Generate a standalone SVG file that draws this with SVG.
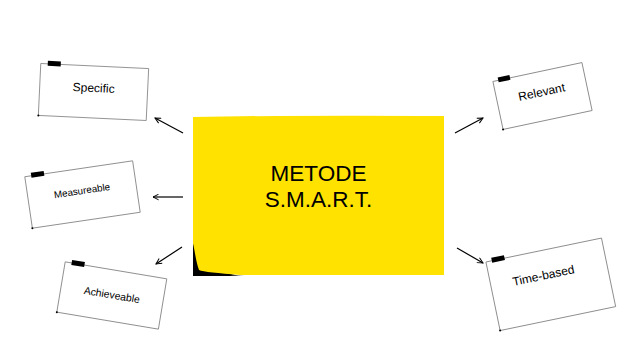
<svg xmlns="http://www.w3.org/2000/svg" width="623" height="350" viewBox="0 0 623 350">
<defs>
<style>
.note{fill:#fff;stroke:#8a8a8a;stroke-width:0.9}
.tape{fill:#000}
.lbl{font-family:"Liberation Sans",Arial,sans-serif;fill:#000;text-anchor:middle}
.conn{stroke:#000;stroke-width:1.2;fill:none;marker-end:url(#arr)}
</style>
<marker id="arr" viewBox="0 0 10 10" refX="9" refY="5" markerWidth="7" markerHeight="7" markerUnits="userSpaceOnUse" orient="auto">
<path d="M1,1 L9,5 L1,9" fill="none" stroke="#000" stroke-width="1.4"/>
</marker>
<linearGradient id="sh" x1="0" y1="0" x2="1" y2="0">
<stop offset="0" stop-color="#000"/>
<stop offset="0.7" stop-color="#000"/>
<stop offset="1" stop-color="#000" stop-opacity="0.2"/>
</linearGradient>
</defs>
<rect width="623" height="350" fill="#fff"/>
<g id="connectors">
<line class="conn" x1="183" y1="133" x2="155" y2="118"/>
<line class="conn" x1="183" y1="197" x2="153" y2="197"/>
<line class="conn" x1="182" y1="247" x2="156" y2="264"/>
<line class="conn" x1="455" y1="133" x2="483" y2="118"/>
<line class="conn" x1="457" y1="248" x2="483" y2="263"/>
</g>
<g id="center">
<path d="M193,243 L193,276 L245,276 Q205,273 193,243 Z" fill="url(#sh)"/>
<path d="M193,117 Q300,115 444,116 L444,275 L240,275 C218,273 203,272 199,270 C196,262 195,252 193,243 Z" fill="#FFE200"/>
<text class="lbl" x="318.5" y="181" font-size="22.5">METODE</text>
<text class="lbl" x="318.5" y="207" font-size="22.5">S.M.A.R.T.</text>
</g>
<g id="specific" transform="translate(93.5,92) rotate(2.7)">
<rect class="note" x="-54" y="-26" width="108" height="52"/>
<rect class="tape" x="-47" y="-29" width="13" height="5"/>
<circle cx="-54" cy="26" r="1" fill="#000"/>
<text class="lbl" x="0" y="0" font-size="12">Specific</text>
</g>
<g id="measureable" transform="translate(82.5,194.5) rotate(-8.4)">
<rect class="note" x="-54.5" y="-26" width="109" height="52"/>
<rect class="tape" x="-48" y="-29" width="13" height="5"/>
<circle cx="-54.5" cy="26" r="1" fill="#000"/>
<text class="lbl" x="0" y="-0.5" font-size="9.8">Measureable</text>
</g>
<g id="achieveable" transform="translate(111.8,295.5) rotate(9.5)">
<rect class="note" x="-51.5" y="-25.5" width="103" height="51"/>
<rect class="tape" x="-45" y="-28.5" width="13" height="5"/>
<circle cx="-51.5" cy="25.5" r="1" fill="#000"/>
<text class="lbl" x="0" y="3" font-size="10.4">Achieveable</text>
</g>
<g id="relevant" transform="translate(542.5,96) rotate(-12)">
<rect class="note" x="-45.5" y="-24.5" width="91" height="49"/>
<rect class="tape" x="-40" y="-27.5" width="12" height="5"/>
<circle cx="-45.5" cy="24.5" r="1" fill="#000"/>
<text class="lbl" x="0" y="0" font-size="12">Relevant</text>
</g>
<g id="timebased" transform="translate(550.8,284.3) rotate(-11.7)">
<rect class="note" x="-59" y="-35" width="118" height="70"/>
<rect class="tape" x="-53" y="-38" width="13" height="5"/>
<circle cx="-59" cy="35" r="1" fill="#000"/>
<text class="lbl" x="-5.5" y="-6" font-size="12">Time-based</text>
</g>
</svg>
